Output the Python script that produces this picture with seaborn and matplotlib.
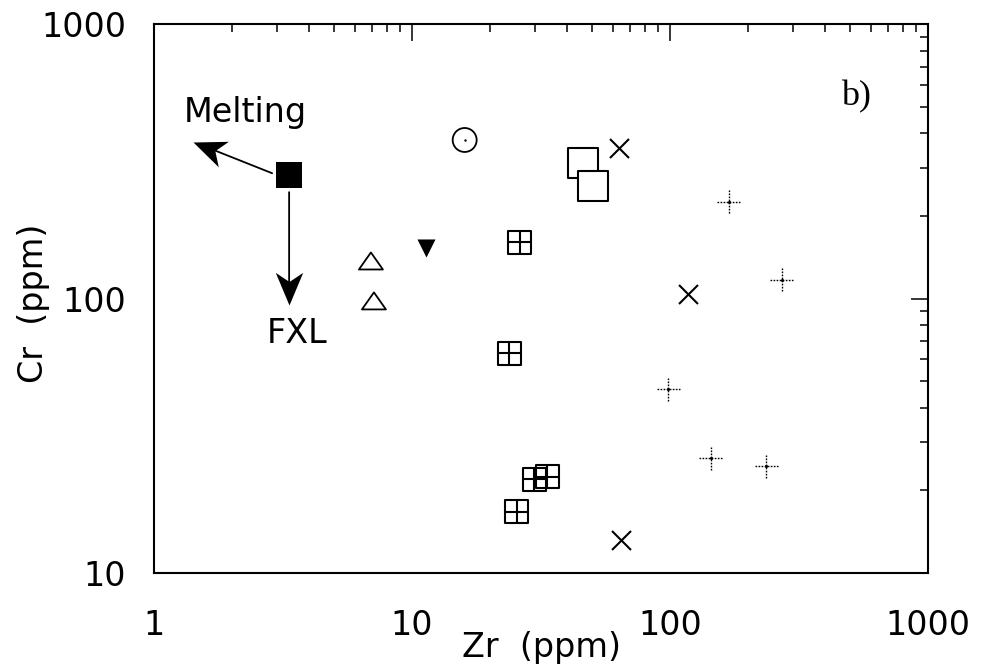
import numpy as np
import matplotlib
matplotlib.use("Agg")
import matplotlib.pyplot as plt
from matplotlib.path import Path
from matplotlib.markers import MarkerStyle
from matplotlib.transforms import Affine2D
from matplotlib.ticker import FixedLocator, FixedFormatter, LogLocator, NullFormatter
import seaborn as sns

# ---------------- data ----------------
start_zr = [3.34];  start_cr = [282]            # filled square (starting point)
circ_zr = [16.0];   circ_cr = [378]             # dotted circle
tri_zr = [6.93, 7.12]; tri_cr = [137, 98]       # open triangles
vtri_zr = [11.3];   vtri_cr = [153]             # filled down-triangle
sq_zr = [46.0, 50.3]; sq_cr = [312, 257]        # open squares
x_zr = [63.7, 117, 64.6]; x_cr = [353, 104, 13.2]   # crosses
bp_zr = [26.2, 23.8, 29.8, 33.4, 25.5]          # boxed plus
bp_cr = [160, 63.2, 22.0, 22.4, 16.7]
plus_zr = [169, 271, 98.3, 144, 236]            # dotted plus
plus_cr = [225, 117, 46.8, 26.2, 24.5]

x_ticks = [1, 10, 100, 1000]
x_ticklabels = ["1", "10", "100", "1000"]
y_ticks = [10, 100, 1000]
y_ticklabels = ["10", "100", "1000"]

# annotation arrows (tail -> tip) in data units
melt_tail = (2.87, 286); melt_tip = (1.42, 372)
fxl_tail = (3.34, 244);  fxl_tip = (3.34, 94.6)

# ---------------- style ----------------
sns.set_theme(style="white")
plt.rcParams["font.family"] = ["DejaVu Sans"]

fig = plt.figure(figsize=(9.86, 6.71), dpi=100)
ax = fig.add_axes([154/986, 1-573/671, (928-154)/986, (573-24)/671])
ax.set_xscale("log")
ax.set_yscale("log")
ax.set_xlim(1, 1000)
ax.set_ylim(10, 1000)

# custom markers
boxplus = Path([(-1, -1), (1, -1), (1, 1), (-1, 1), (-1, -1),
                (0, -1), (0, 1), (-1, 0), (1, 0)],
               [Path.MOVETO, Path.LINETO, Path.LINETO, Path.LINETO, Path.CLOSEPOLY,
                Path.MOVETO, Path.LINETO, Path.MOVETO, Path.LINETO])
flat_tri = Path([(-1, -0.71), (1, -0.71), (0, 0.71), (-1, -0.71)],
                [Path.MOVETO, Path.LINETO, Path.LINETO, Path.CLOSEPOLY])

k = "black"
sns.scatterplot(x=start_zr, y=start_cr, ax=ax, marker="s", s=350,
                color=k, edgecolor=k, linewidth=0, zorder=3)
sns.scatterplot(x=circ_zr, y=circ_cr, ax=ax, marker="o", s=298,
                facecolor="none", edgecolor=k, linewidth=1.3, zorder=3)
sns.scatterplot(x=circ_zr, y=circ_cr, ax=ax, marker="o", s=3,
                color=k, edgecolor=k, linewidth=0, zorder=3)
sns.scatterplot(x=tri_zr, y=tri_cr, ax=ax, marker=flat_tri, s=298,
                facecolor="none", edgecolor=k, linewidth=1.3, zorder=3)
sns.scatterplot(x=vtri_zr, y=vtri_cr, ax=ax, marker="v", s=169,
                color=k, edgecolor=k, linewidth=0, zorder=3)
sns.scatterplot(x=sq_zr, y=sq_cr, ax=ax, marker="s", s=436,
                facecolor="white", edgecolor=k, linewidth=1.5, zorder=3)
sns.scatterplot(x=x_zr, y=x_cr, ax=ax, marker="x", s=187,
                color=k, edgecolor=None, linewidth=1.5, zorder=3)
sns.scatterplot(x=bp_zr, y=bp_cr, ax=ax, marker=boxplus, s=274,
                facecolor="none", edgecolor=k, linewidth=1.5, zorder=3)
sns.scatterplot(x=plus_zr, y=plus_cr, ax=ax, marker="+", s=274,
                color=k, edgecolor=None, linewidth=1.0,
                linestyle=(0, (1.2, 1.0)), zorder=3)
sns.scatterplot(x=plus_zr, y=plus_cr, ax=ax, marker="o", s=5,
                color=k, edgecolor=k, linewidth=0, zorder=3)

# arrows: shaft + notched (stealth) arrowhead
head = Path([(0, 0), (-1, 0.42), (-0.72, 0), (-1, -0.42), (0, 0)],
            [Path.MOVETO, Path.LINETO, Path.LINETO, Path.LINETO, Path.CLOSEPOLY])
for tail, tip in [(melt_tail, melt_tip), (fxl_tail, fxl_tip)]:
    ax.annotate("", xy=tip, xytext=tail,
                arrowprops=dict(arrowstyle="-", color=k, lw=1.3,
                                shrinkA=0, shrinkB=6))
    p0 = ax.transData.transform(tail)
    p1 = ax.transData.transform(tip)
    ang = np.degrees(np.arctan2(p1[1] - p0[1], p1[0] - p0[0]))
    ms = MarkerStyle(head, transform=Affine2D().rotate_deg(ang))
    ax.plot([tip[0]], [tip[1]], marker=ms, markersize=47, color=k,
            markeredgewidth=0, linestyle="none", zorder=4)

ax.text(2.25, 474, "Melting", fontsize=24, ha="center", va="center", color=k)
ax.text(3.58, 74.8, "FXL", fontsize=24, ha="center", va="center", color=k)
ax.text(0.907, 0.867, "b)", transform=ax.transAxes, fontsize=26,
        family=["Liberation Serif", "DejaVu Serif"], ha="center", va="center", color=k)

# axes, ticks
for sp in ax.spines.values():
    sp.set_visible(True)
    sp.set_color(k)
    sp.set_linewidth(1.5)
ax.xaxis.set_major_locator(FixedLocator(x_ticks))
ax.xaxis.set_major_formatter(FixedFormatter(x_ticklabels))
ax.yaxis.set_major_locator(FixedLocator(y_ticks))
ax.yaxis.set_major_formatter(FixedFormatter(y_ticklabels))
ax.xaxis.set_minor_locator(LogLocator(base=10, subs=range(2, 10)))
ax.yaxis.set_minor_locator(LogLocator(base=10, subs=range(2, 10)))
ax.xaxis.set_minor_formatter(NullFormatter())
ax.yaxis.set_minor_formatter(NullFormatter())
ax.tick_params(which="both", direction="in", top=True, right=True,
               color=k, width=1.1, labelcolor=k)
ax.tick_params(which="major", length=12, labelsize=24)
ax.tick_params(which="minor", length=6)
ax.tick_params(axis="x", which="major", pad=26)
ax.tick_params(axis="y", which="major", pad=20)

ax.set_xlabel("Zr  (ppm)", fontsize=24, color=k)
ax.set_ylabel("Cr  (ppm)", fontsize=24, color=k)
ax.xaxis.set_label_coords(0.5, -0.105)
ax.yaxis.set_label_coords(-0.134, 0.492)

fig.savefig("out.png", dpi=100)
